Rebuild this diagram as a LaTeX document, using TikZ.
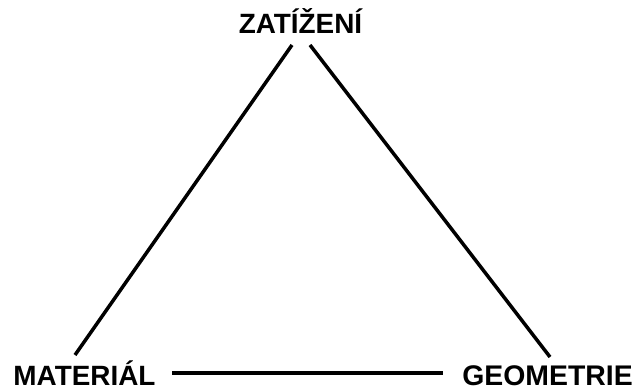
\documentclass[tikz,border=0pt]{standalone}
\usepackage{fontspec}
\setmainfont{Liberation Sans}
\usepackage{tikz}

\begin{document}
\begin{tikzpicture}[x=1bp,y=1bp,every node/.style={font=\fontsize{28}{30}\selectfont\bfseries,inner sep=0pt,anchor=base}]
\useasboundingbox (0,0) rectangle (638,390);
\node (zat) at (300.5,357) {ZATÍŽENÍ};
\node (mat) at (84.5,5) {MATERIÁL};
\node (geo) at (547.5,5) {\fontsize{28.5}{30}\selectfont GEOMETRIE};
\coordinate (zatL) at (292,345);
\coordinate (zatR) at (310,345);
\coordinate (matT) at (75,35);
\coordinate (matR) at (172,17);
\coordinate (geoT) at (550,33);
\coordinate (geoL) at (443,17);
\draw[line width=3.5bp] (zatL) -- (matT);
\draw[line width=3.5bp] (zatR) -- (geoT);
\draw[line width=3.5bp] (matR) -- (geoL);
\end{tikzpicture}
\end{document}
